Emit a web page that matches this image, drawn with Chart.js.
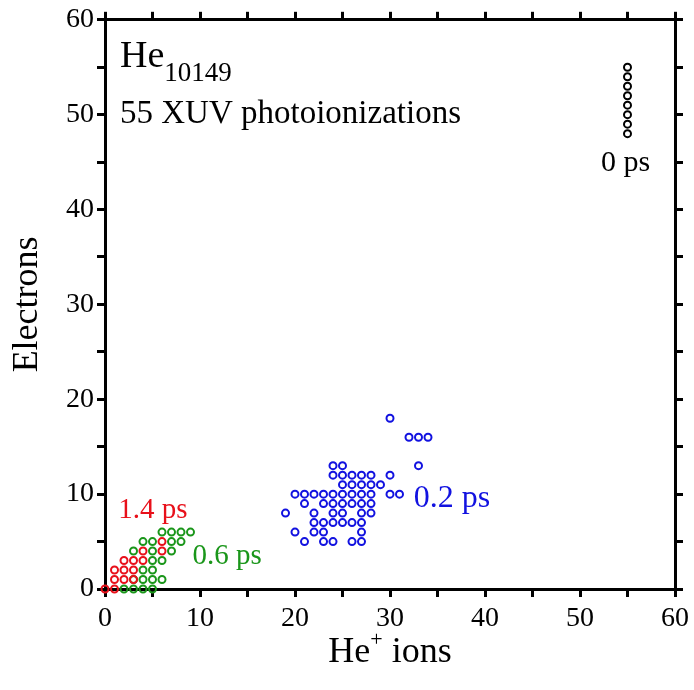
<!DOCTYPE html>
<html>
<head>
<meta charset="utf-8">
<script src="https://cdn.jsdelivr.net/npm/chart.js@4.4.1/dist/chart.umd.min.js"></script>
<style>
  html, body { margin: 0; background: #fff; }
  #wrap { width: 694px; height: 690px; }
</style>
</head>
<body>
<div id="wrap"><canvas id="c"></canvas></div>
<script>
const serif = "'Liberation Serif', 'Times New Roman', serif";

// ions / electrons counted per run, one list pair per delay
const ions0ps = [55, 55, 55, 55, 55, 55, 55, 55];
const elec0ps = [48, 49, 50, 51, 52, 53, 54, 55];

const ions02ps = [30, 32, 33, 34, 24, 25, 33, 24, 25, 26, 27, 28, 30, 25, 26, 27, 28, 29,
  20, 21, 22, 23, 24, 25, 26, 27, 28, 30, 31, 21, 23, 24, 25, 26, 27, 28,
  19, 22, 24, 25, 27, 28, 22, 23, 24, 25, 26, 27, 20, 22, 23, 27, 21, 23, 24, 26, 27];
const elec02ps = [18, 16, 16, 16, 13, 13, 13, 12, 12, 12, 12, 12, 12, 11, 11, 11, 11, 11,
  10, 10, 10, 10, 10, 10, 10, 10, 10, 10, 10, 9, 9, 9, 9, 9, 9, 9,
  8, 8, 8, 8, 8, 8, 7, 7, 7, 7, 7, 7, 6, 6, 6, 6, 5, 5, 5, 5, 5];

const ions06ps = [2, 3, 4, 5, 3, 4, 5, 6, 4, 5, 5, 6, 3, 5, 7, 4, 5, 7, 8, 6, 7, 8, 9];
const elec06ps = [0, 0, 0, 0, 1, 1, 1, 1, 2, 2, 3, 3, 4, 4, 4, 5, 5, 5, 5, 6, 6, 6, 6];

const ions14ps = [0, 1, 1, 2, 3, 1, 2, 3, 2, 3, 4, 4, 6, 6];
const elec14ps = [0, 0, 1, 1, 1, 2, 2, 2, 3, 3, 3, 4, 4, 5];

const tickVals = [0, 10, 20, 30, 40, 50, 60];

const RED = "#e8101a", GREEN = "#1a961a", BLUE = "#1212e0", BLACK = "#000";

const pts = (xs, ys) => xs.map((x, i) => ({ x, y: ys[i] }));
const series = (label, xs, ys, color) => ({
  label, data: pts(xs, ys), showLine: false, clip: false,
  pointStyle: "circle", pointRadius: 3.5, pointHoverRadius: 3.5,
  borderWidth: 2, pointBorderWidth: 2,
  borderColor: color, pointBorderColor: color, backgroundColor: "rgba(0,0,0,0)",
});

const tickLabel = (v) => (tickVals.includes(v) ? String(v) : "");

function axis(pos, extra, pad) {
  return Object.assign({
    type: "linear", position: pos, min: 0, max: 60,
    grid: { drawOnChartArea: false, drawTicks: true, tickLength: 8, color: BLACK, lineWidth: 3 },
    border: { display: true, color: BLACK, width: 3 },
    ticks: { stepSize: 5, autoSkip: false, callback: tickLabel, color: BLACK, padding: pad || 3,
      font: { family: serif, size: 28 } },
  }, extra);
}

// free text: labels next to each cluster, the run title, and the x axis title
const annotate = {
  id: "annotate",
  afterDraw(ch) {
    const g = ch.ctx, xs = ch.scales.x, ys = ch.scales.y, a = ch.chartArea;
    const at = (x, y) => [xs.getPixelForValue(x), ys.getPixelForValue(y)];
    g.save();
    g.textAlign = "left"; g.textBaseline = "alphabetic";
    const put = (txt, size, color, px, py) => {
      g.font = size + "px " + serif; g.fillStyle = color; g.fillText(txt, px, py);
      return g.measureText(txt).width;
    };
    // title block
    let w = put("He", 38, BLACK, a.left + 15, a.top + 47);
    put("10149", 27, BLACK, a.left + 15 + w, a.top + 61);
    put("55 XUV photoionizations", 33, BLACK, a.left + 15, a.top + 103);
    // delay labels
    put("0 ps", 30, BLACK, ...at(52.2, 44.1));
    put("0.2 ps", 32, BLUE, ...at(32.5, 8.6));
    put("0.6 ps", 29, GREEN, ...at(9.2, 2.6));
    put("1.4 ps", 29, RED, ...at(1.4, 7.5));
    // x axis title with superscript
    const cx = (a.left + a.right) / 2, by = 662;
    g.font = "36px " + serif;
    const wHe = g.measureText("He").width, wIons = g.measureText(" ions").width;
    g.font = "22px " + serif;
    const wPlus = g.measureText("+").width;
    let x0 = cx - (wHe + wPlus + wIons) / 2;
    x0 += put("He", 36, BLACK, x0, by);
    x0 += put("+", 22, BLACK, x0, by - 16);
    put(" ions", 36, BLACK, x0, by);
    g.restore();
  },
};

new Chart(document.getElementById("c"), {
  type: "scatter",
  data: {
    datasets: [
      series("1.4 ps", ions14ps, elec14ps, RED),
      series("0.6 ps", ions06ps, elec06ps, GREEN),
      series("0.2 ps", ions02ps, elec02ps, BLUE),
      series("0 ps", ions0ps, elec0ps, BLACK),
    ],
  },
  options: {
    responsive: true, maintainAspectRatio: false, animation: false,
    layout: { padding: 0 },
    plugins: { legend: { display: false }, tooltip: { enabled: false } },
    scales: {
      x: axis("bottom", { afterFit: (s) => { s.height = 101; } }, 5),
      y: axis("left", {
        title: { display: true, text: "Electrons", color: BLACK, padding: { top: 6, bottom: 0 },
          font: { family: serif, size: 36 } },
        afterFit: (s) => { s.width = 105; },
      }, 3),
      x2: axis("top", { ticks: { display: false, stepSize: 5 }, afterFit: (s) => { s.height = 19; } }),
      y2: axis("right", { ticks: { display: false, stepSize: 5 }, afterFit: (s) => { s.width = 14; } }),
    },
  },
  plugins: [annotate],
});
</script>
</body>
</html>
